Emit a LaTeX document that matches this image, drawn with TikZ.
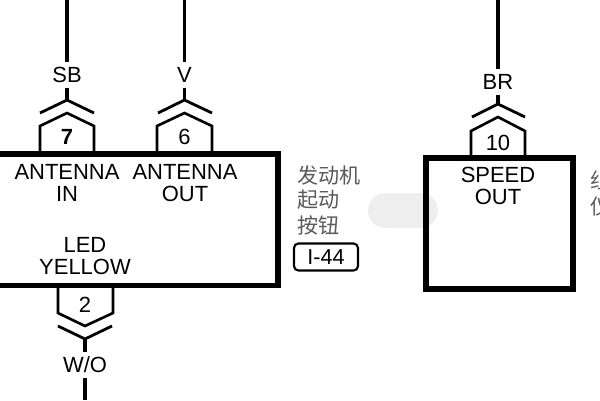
\documentclass[tikz,border=0pt]{standalone}
\usepackage{fontspec}
\setmainfont{Liberation Sans}
\newfontfamily\cjk{Noto Sans CJK SC}
\definecolor{pillgray}{HTML}{EEEEEE}
\definecolor{cjkgray}{HTML}{5A5A5A}
\begin{document}
\begin{tikzpicture}[x=0.02cm, y=-0.02cm]
    % Define styles
    \tikzset{
        unit/.style={draw, line width=3.2pt, outer sep=0pt, inner sep=0pt},
        wire/.style={line width=2pt},
        pin/.style={line width=1.5pt, line join=miter},
        chevron/.style={line width=1.6pt},
        wirelabel/.style={font=\fontsize{12.5}{14}\selectfont, inner sep=0pt, minimum height=0.5cm},
        pinlabel/.style={font=\fontsize{12.5}{14}\selectfont, inner sep=0pt},
        unitlabel/.style={font=\fontsize{12.5}{12.5}\selectfont, align=center, inner sep=0pt},
        cjklabel/.style={font=\cjk\fontsize{12}{14}\selectfont, text=cjkgray, align=left, inner sep=0pt, anchor=west},
        refbox/.style={draw, line width=1.2pt, rounded corners=2.5pt, inner sep=0pt, outer sep=0pt, font=\fontsize{12.3}{14}\selectfont}
    }
    \useasboundingbox (0,0) rectangle (600,400);
    \clip (0,0) rectangle (600,400);

    % Grey pill
    \node[fill=pillgray, rounded corners=0.35cm, minimum width=1.4cm, minimum height=0.7cm, inner sep=0pt] (pill) at (403,210.5) {};

    % Units
    \node[unit, minimum width=5.76cm, minimum height=2.63cm] (antennaunit) at (134,219.7) {};
    \node[unit, minimum width=2.95cm, minimum height=2.63cm] (speedunit) at (499.5,223.5) {};

    % Unit texts
    \node[unitlabel] (antennain) at (67,183) {ANTENNA\\IN};
    \node[unitlabel] (antennaout) at (185,183) {ANTENNA\\OUT};
    \node[unitlabel] (ledyellow) at (85,256) {LED\\YELLOW};
    \node[unitlabel] (speedout) at (498,186) {SPEED\\OUT};

    % Pin 7
    \draw[pin] (40,154) -- (40,126) -- (67,113) -- (94,126) -- (94,154);
    \node[pinlabel, font=\fontsize{12.5}{14}\selectfont\bfseries] (pinseven) at (67,137) {7};
    \draw[chevron] (40,113) -- (67,100) -- (94,113);
    \coordinate (sbtop) at (67,0);
    \coordinate (sbpeak) at (67,100);
    \node[wirelabel] (sb) at (67,75) {SB};
    \draw[wire] (sbtop) -- (sb);
    \draw[wire] (sb) -- (sbpeak);

    % Pin 6
    \draw[pin] (157,154) -- (157,126) -- (184.5,113) -- (212,126) -- (212,154);
    \node[pinlabel] (pinsix) at (184.5,137) {6};
    \draw[chevron] (158,113) -- (184.5,100) -- (212,113);
    \coordinate (vtop) at (184.5,0);
    \coordinate (vpeak) at (184.5,100);
    \node[wirelabel] (v) at (184.5,75) {V};
    \draw[wire] (vtop) -- (v);
    \draw[wire] (v) -- (vpeak);

    % Pin 10
    \draw[pin] (471,157) -- (471,131) -- (498,117) -- (525,131) -- (525,157);
    \node[pinlabel] (pinten) at (498,143) {10};
    \draw[chevron] (472,117) -- (498,104) -- (525,117);
    \coordinate (brtop) at (498,0);
    \coordinate (brpeak) at (498,104);
    \node[wirelabel] (br) at (498,82) {BR};
    \draw[wire] (brtop) -- (br);
    \draw[wire] (br) -- (brpeak);

    % Pin 2
    \draw[pin] (58,286) -- (58,313) -- (85,326) -- (113,313) -- (113,286);
    \node[pinlabel] (pintwo) at (85,305) {2};
    \draw[chevron] (58,326) -- (85,339) -- (112,326);
    \coordinate (wopeak) at (85,339);
    \coordinate (wobottom) at (85,400);
    \node[wirelabel] (wo) at (85,365) {W/O};
    \draw[wire] (wopeak) -- (wo);
    \draw[wire] (wo) -- (wobottom);

    % Side notes
    \node[cjklabel] (startnote) at (297,175) {发动机};
    \node[cjklabel] (startnotetwo) at (297,200) {起动};
    \node[cjklabel] (startnotethree) at (297,225) {按钮};
    \node[refbox, minimum width=1.28cm, minimum height=0.54cm] (startref) at (326,257) {I-44};
    \node[cjklabel] (metername) at (590,180) {组};
    \node[cjklabel] (meternametwo) at (590,207) {仪};
    \node[refbox, minimum width=1.28cm, minimum height=0.54cm] (meterref) at (652,236.5) {};
\end{tikzpicture}
\end{document}
